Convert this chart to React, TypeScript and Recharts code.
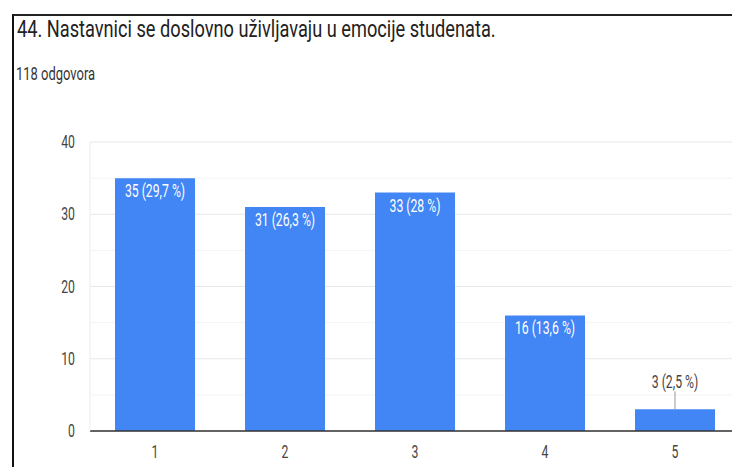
import { BarChart, Bar, XAxis, YAxis, CartesianGrid } from 'recharts';

const categories = ['1', '2', '3', '4', '5'];
const counts = [35, 31, 33, 16, 3];
const percents = [29.7, 26.3, 28, 13.6, 2.5];
const gridTicks = [0, 5, 10, 15, 20, 25, 30, 35, 40];

const data = categories.map((c, i) => ({ name: c, value: counts[i], pct: percents[i] }));

const SQUISH = 0.68;
const FONT = 'Roboto, "Noto Sans", sans-serif';

const fmtPct = (p: number) => String(p).replace('.', ',');

function XTick({ x, y, payload }: any) {
  return (
    <text
      transform={`translate(${x},${y + 19}) scale(${SQUISH},1)`}
      textAnchor="middle"
      fontSize={18}
      fontFamily={FONT}
      fill="#444"
    >
      {payload.value}
    </text>
  );
}

function YTick({ x, y, payload }: any) {
  // only every second grid value gets a label
  if (payload.value % 10 !== 0) return null;
  return (
    <text
      transform={`translate(${x - 7},${y + 6}) scale(${SQUISH},1)`}
      textAnchor="end"
      fontSize={18}
      fontFamily={FONT}
      fill="#444"
    >
      {payload.value}
    </text>
  );
}

// major lines darker, minor (5, 15, ...) lighter
function GridLine(props: any) {
  const { x1, x2, y1, y2, index } = props;
  return (
    <line
      x1={x1}
      x2={x2}
      y1={y1}
      y2={y2}
      stroke={index % 2 === 0 ? '#e8e8e8' : '#f4f4f4'}
      strokeWidth={1}
    />
  );
}

function BarLabel({ x, y, width, height, index }: any) {
  const d = data[index];
  const cx = x + width / 2;
  const txt = `${d.value} (${fmtPct(d.pct)} %)`;
  if (height > 30) {
    return (
      <text
        transform={`translate(${cx},${y + 19}) scale(${SQUISH},1)`}
        textAnchor="middle"
        fontSize={18}
        fontFamily={FONT}
        fill="#fff"
      >
        {txt}
      </text>
    );
  }
  return (
    <g>
      <line x1={cx} x2={cx} y1={y - 18} y2={y} stroke="#999" strokeWidth={1} />
      <text
        transform={`translate(${cx},${y - 21}) scale(${SQUISH},1)`}
        textAnchor="middle"
        fontSize={18}
        fontFamily={FONT}
        fill="#444"
      >
        {txt}
      </text>
    </g>
  );
}

export default function App() {
  return (
    <div
      style={{
        position: 'absolute',
        left: 0,
        top: 0,
        width: 732,
        height: 467,
        overflow: 'hidden',
        background: '#fff',
      }}
    >
      <div
        style={{
          position: 'absolute',
          left: 12,
          top: 14,
          width: 760,
          height: 480,
          borderLeft: '2px solid #111',
          borderTop: '2px solid #222',
        }}
      />
      <div
        style={{
          position: 'absolute',
          left: 17,
          top: 17,
          fontFamily: FONT,
          fontSize: 24,
          lineHeight: '24px',
          color: '#222',
          whiteSpace: 'nowrap',
          transform: 'scale(0.758,1)',
          transformOrigin: 'left top',
        }}
      >
        44. Nastavnici se doslovno uživljavaju u emocije studenata.
      </div>
      <div
        style={{
          position: 'absolute',
          left: 16,
          top: 65,
          fontFamily: FONT,
          fontSize: 18,
          lineHeight: '18px',
          color: '#333',
          whiteSpace: 'nowrap',
          transform: 'scale(0.72,1)',
          transformOrigin: 'left top',
        }}
      >
        118 odgovora
      </div>
      <div style={{ position: 'absolute', left: 0, top: 0 }}>
        <BarChart
          width={750}
          height={467}
          data={data}
          margin={{ top: 142, right: 10, left: 0, bottom: 0 }}
          barSize={80}
        >
          <CartesianGrid vertical={false} horizontal={(p: any) => <GridLine {...p} />} />
          <XAxis
            dataKey="name"
            height={36}
            tick={<XTick />}
            tickLine={false}
            axisLine={{ stroke: '#333', strokeWidth: 1.5 }}
          />
          <YAxis
            width={90}
            domain={[0, 40]}
            ticks={gridTicks}
            tick={<YTick />}
            tickLine={false}
            axisLine={{ stroke: '#ececec' }}
          />
          <Bar dataKey="value" fill="#4285f4" isAnimationActive={false} label={<BarLabel />} />
        </BarChart>
      </div>
    </div>
  );
}
